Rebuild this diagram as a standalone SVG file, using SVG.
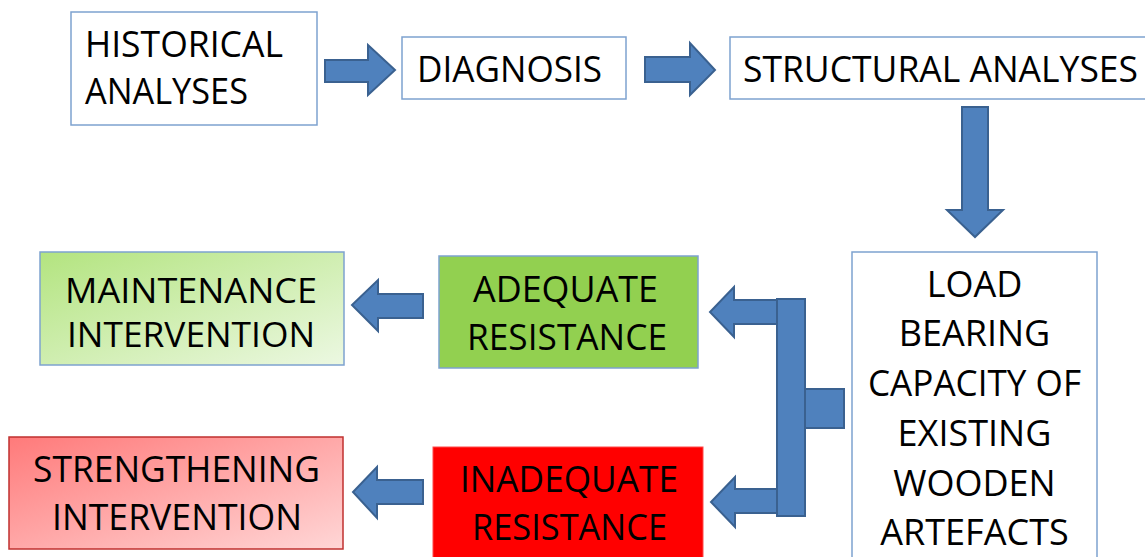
<svg xmlns="http://www.w3.org/2000/svg" width="1145" height="557" viewBox="0 0 1145 557">
  <defs>
    <linearGradient id="gradGreen" x1="0" y1="0" x2="1" y2="1">
      <stop offset="0" stop-color="#b3e47f"/>
      <stop offset="1" stop-color="#ecf8e2"/>
    </linearGradient>
    <linearGradient id="gradRed" x1="0" y1="0" x2="1" y2="1">
      <stop offset="0" stop-color="#ff7a7a"/>
      <stop offset="1" stop-color="#ffd6d6"/>
    </linearGradient>
    <style>
      .box { fill: #ffffff; stroke: #7ea2cf; stroke-width: 1.5; }
      .lbl { font-family: "Open Sans", "Liberation Sans", sans-serif; font-size: 36px; fill: #000000; }
      .tight { font-size: 34px; }
      .mid { text-anchor: middle; }
      .arrow { fill: #4f81bd; stroke: #3a6190; stroke-width: 2; stroke-linejoin: miter; }
    </style>
  </defs>

  <rect width="1145" height="557" fill="#ffffff"/>

  <!-- nodes -->
  <g id="historical">
    <rect class="box" x="71" y="12" width="246" height="113"/>
    <text class="lbl" x="85" y="57" textLength="198" lengthAdjust="spacingAndGlyphs">HISTORICAL</text>
    <text class="lbl" x="85" y="104" textLength="163" lengthAdjust="spacingAndGlyphs">ANALYSES</text>
  </g>

  <g id="diagnosis">
    <rect class="box" x="402" y="37" width="224" height="62"/>
    <text class="lbl" x="417" y="82" textLength="185" lengthAdjust="spacingAndGlyphs">DIAGNOSIS</text>
  </g>

  <g id="structural">
    <rect class="box" x="730" y="37" width="420" height="62"/>
    <text class="lbl" x="743" y="82" textLength="395" lengthAdjust="spacingAndGlyphs">STRUCTURAL ANALYSES</text>
  </g>

  <g id="load">
    <rect class="box" x="852" y="252" width="245" height="310"/>
    <text class="lbl mid" x="974.5" y="297">LOAD</text>
    <text class="lbl mid" x="974.5" y="346">BEARING</text>
    <text class="lbl mid" x="974.5" y="396" textLength="213" lengthAdjust="spacingAndGlyphs">CAPACITY OF</text>
    <text class="lbl mid" x="974.5" y="446">EXISTING</text>
    <text class="lbl mid" x="974.5" y="496">WOODEN</text>
    <text class="lbl mid" x="974.5" y="545">ARTEFACTS</text>
  </g>

  <g id="adequate">
    <rect x="439" y="256" width="259" height="112" fill="#92d050" stroke="#7ea2cf" stroke-width="1.5"/>
    <text class="lbl" x="473" y="302" textLength="185" lengthAdjust="spacingAndGlyphs">ADEQUATE</text>
    <text class="lbl" x="467" y="350" textLength="200" lengthAdjust="spacingAndGlyphs">RESISTANCE</text>
  </g>

  <g id="inadequate">
    <rect x="433" y="447" width="270" height="115" fill="#ff0000" stroke="#ff4a4a" stroke-width="1"/>
    <text class="lbl" x="460" y="492" textLength="218" lengthAdjust="spacingAndGlyphs">INADEQUATE</text>
    <text class="lbl" x="472" y="540" textLength="195" lengthAdjust="spacingAndGlyphs">RESISTANCE</text>
  </g>

  <g id="maintenance">
    <rect x="40" y="252" width="304" height="113" fill="url(#gradGreen)" stroke="#7ea2cf" stroke-width="1.5"/>
    <text class="lbl tight" x="65" y="303" textLength="252" lengthAdjust="spacingAndGlyphs">MAINTENANCE</text>
    <text class="lbl tight" x="67" y="347" textLength="248" lengthAdjust="spacingAndGlyphs">INTERVENTION</text>
  </g>

  <g id="strengthening">
    <rect x="9" y="437" width="334" height="112" fill="url(#gradRed)" stroke="#c0302f" stroke-width="1.5"/>
    <text class="lbl" x="33" y="482" textLength="287" lengthAdjust="spacingAndGlyphs">STRENGTHENING</text>
    <text class="lbl" x="52" y="530" textLength="250" lengthAdjust="spacingAndGlyphs">INTERVENTION</text>
  </g>

  <!-- connectors: block arrows -->
  <g id="connectors">
    <polygon class="arrow" points="325,60 368,60 368,45 395,70 368,95 368,82 325,82"/>
    <polygon class="arrow" points="645,57 690,57 690,43 715,70 690,95 690,82 645,82"/>
    <polygon class="arrow" points="962,107 988,107 988,210 1003,210 975,237 947,210 962,210"/>
    <polygon class="arrow" points="423,294 378,294 378,280 352,305 378,331 378,318 423,318"/>
    <polygon class="arrow" points="423,480 377,480 377,467 353,492 377,518 377,504 423,504"/>
    <!-- branch from the load-bearing box to the two outcomes -->
    <polygon class="arrow" points="780,300 734,300 734,287 710,312 734,337 734,324 780,324"/>
    <polygon class="arrow" points="780,489 735,489 735,477 711,502 735,527 735,513 780,513"/>
    <rect class="arrow" x="800" y="389" width="44" height="39"/>
    <rect class="arrow" x="777" y="299" width="28" height="217"/>
  </g>
</svg>
